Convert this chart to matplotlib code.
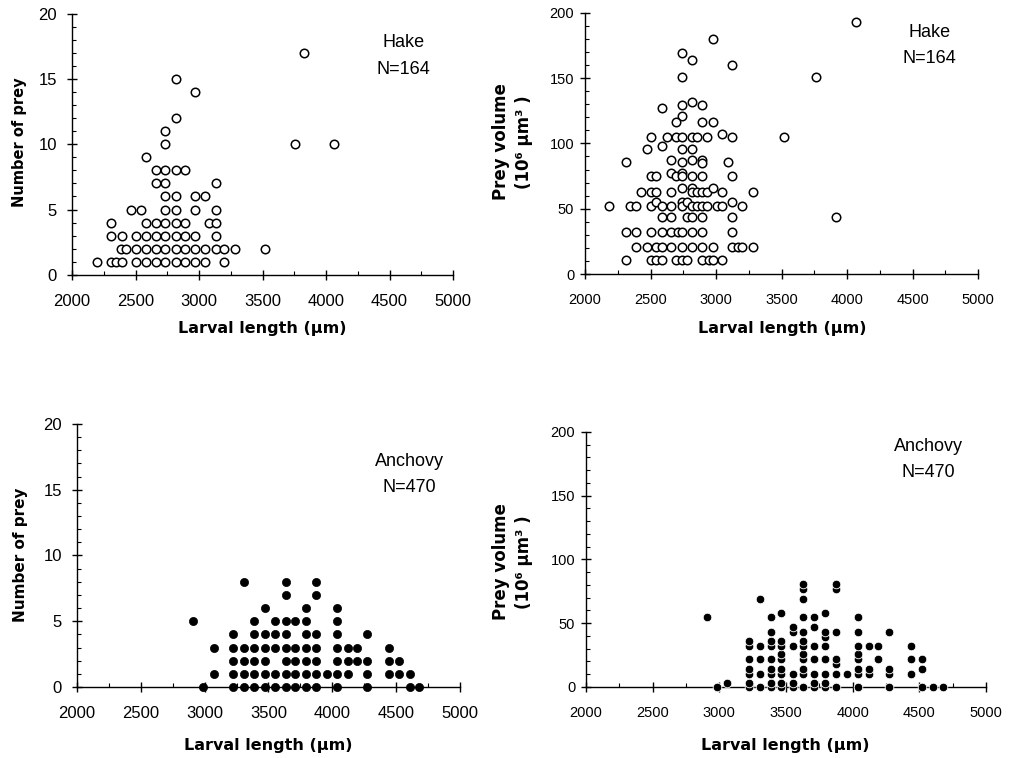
import matplotlib
matplotlib.use('Agg')
from matplotlib import pyplot as plt
from matplotlib.ticker import MultipleLocator

plt.rcParams['font.family'] = ['Liberation Sans', 'DejaVu Sans']

# hake: number of prey vs larval length (um)
hake_len_n = [3830,
              2820,
              2970,
              2820,
              2735,
              2735, 3755, 4065,
              2580,
              2660, 2735, 2820, 2890,
              2660, 2735, 3130,
              2735, 2820, 2970, 3045,
              2465, 2545, 2735, 2820, 2970, 3130,
              2310, 2580, 2660, 2735, 2820, 2890, 3075, 3130,
              2310, 2395, 2505, 2580, 2660, 2735, 2820, 2890, 2970, 3130,
              2385, 2425, 2505, 2580, 2660, 2735, 2820, 2890, 2970, 3045, 3130, 3200, 3285, 3520,
              2195, 2310, 2350, 2395, 2505, 2580, 2660, 2735, 2820, 2890, 2970, 3045, 3200]
hake_prey = [17,
             15,
             14,
             12,
             11,
             10, 10, 10,
             9,
             8, 8, 8, 8,
             7, 7, 7,
             6, 6, 6, 6,
             5, 5, 5, 5, 5, 5,
             4, 4, 4, 4, 4, 4, 4, 4,
             3, 3, 3, 3, 3, 3, 3, 3, 3, 3,
             2, 2, 2, 2, 2, 2, 2, 2, 2, 2, 2, 2, 2, 2,
             1, 1, 1, 1, 1, 1, 1, 1, 1, 1, 1, 1, 1]

# hake: prey volume (10^6 um^3) vs larval length
hake_len_v = [4070, 2975, 2740, 2815, 3125, 2740, 3760,
              2585, 2740, 2815, 2895, 2740, 2695, 2895, 2975,
              2500, 2625, 2695, 2740, 2815, 2855, 2930, 3045, 3125, 3520,
              2470, 2585, 2740, 2815,
              2315, 2660, 2740, 2815, 2895, 2895, 3090,
              2500, 2545, 2660, 2695, 2740, 2740, 2815, 2895, 3125,
              2425, 2500, 2545, 2660, 2740, 2815, 2815, 2855, 2895, 2930, 2975, 3045, 3285,
              2185, 2345, 2390, 2500, 2545, 2585, 2660, 2740, 2740, 2775, 2815, 2855, 2895, 2930, 3010, 3045, 3125, 3200,
              3915, 2585, 2660, 2775, 2815, 2895, 3125,
              2315, 2390, 2500, 2585, 2660, 2710, 2740, 2815, 2895, 3125,
              2390, 2470, 2545, 2585, 2660, 2740, 2815, 2895, 2975, 3125, 3165, 3200, 3285,
              2315, 2500, 2545, 2585, 2695, 2740, 2775, 2895, 2945, 2975, 3045]
hake_vol = [193, 180, 169, 164, 160, 151, 151,
            127, 129, 132, 129, 121, 116, 116, 116,
            105, 105, 105, 105, 105, 105, 105, 107, 105, 105,
            96, 98, 96, 96,
            86, 87, 86, 87, 87, 85, 86,
            75, 75, 77, 75, 77, 75, 75, 75, 75,
            63, 63, 63, 63, 66, 66, 63, 63, 63, 63, 66, 63, 63,
            52, 52, 52, 52, 55, 52, 52, 55, 52, 55, 52, 52, 52, 52, 52, 52, 55, 52,
            44, 44, 44, 44, 44, 44, 44,
            32, 32, 32, 32, 32, 32, 32, 32, 32, 32,
            21, 21, 21, 21, 21, 21, 21, 21, 21, 21, 21, 21, 21,
            11, 11, 11, 11, 11, 11, 11, 11, 11, 11, 11]

# anchovy: number of prey vs larval length
anch_len_n = [3305, 3635, 3875,
              3635, 3875,
              3470, 3790, 4035,
              2905, 3390, 3550, 3635, 3710, 3790, 4035,
              3225, 3390, 3470, 3550, 3635, 3790, 3875, 4035, 4275,
              3070, 3225, 3305, 3390, 3470, 3550, 3635, 3710, 3790, 3875, 4035, 4120, 4190, 4440,
              3225, 3305, 3390, 3470, 3635, 3710, 3790, 3875, 4035, 4120, 4190, 4275, 4440, 4525,
              3070, 3225, 3305, 3390, 3470, 3550, 3635, 3710, 3790, 3875, 3955, 4035, 4120, 4275, 4440, 4525, 4605,
              2985, 3225, 3305, 3390, 3470, 3550, 3635, 3710, 3790, 3875, 4035, 4275, 4605, 4680]
anch_prey = [8, 8, 8,
             7, 7,
             6, 6, 6,
             5, 5, 5, 5, 5, 5, 5,
             4, 4, 4, 4, 4, 4, 4, 4, 4,
             3, 3, 3, 3, 3, 3, 3, 3, 3, 3, 3, 3, 3, 3,
             2, 2, 2, 2, 2, 2, 2, 2, 2, 2, 2, 2, 2, 2,
             1, 1, 1, 1, 1, 1, 1, 1, 1, 1, 1, 1, 1, 1, 1, 1, 1,
             0, 0, 0, 0, 0, 0, 0, 0, 0, 0, 0, 0, 0, 0]

# anchovy: prey volume vs larval length
anch_len_v = [2905, 2980, 3060,
              3225, 3225, 3225, 3225, 3225, 3225, 3225,
              3305, 3305, 3305, 3305, 3305,
              3385, 3385, 3385, 3385, 3385, 3385, 3385, 3385, 3385,
              3465, 3465, 3465, 3465, 3465, 3465, 3465, 3465, 3465,
              3550, 3550, 3550, 3550, 3550, 3550,
              3630, 3630, 3630, 3630, 3630, 3630, 3630, 3630, 3630, 3630, 3630, 3630,
              3710, 3710, 3710, 3710, 3710, 3710, 3710,
              3795, 3795, 3795, 3795, 3795, 3795, 3795, 3795,
              3875, 3875, 3875, 3875, 3875, 3875, 3875,
              3955,
              4040, 4040, 4040, 4040, 4040, 4040, 4040, 4040,
              4120, 4120, 4120,
              4190, 4190,
              4275, 4275, 4275, 4275,
              4435, 4435, 4435,
              4520, 4520, 4520,
              4600, 4680]
anch_vol = [55, 0, 3,
            0, 3, 10, 14, 22, 32, 36,
            0, 10, 22, 32, 69,
            0, 3, 10, 14, 22, 32, 36, 43, 55,
            0, 3, 10, 14, 22, 26, 32, 36, 58,
            0, 3, 10, 32, 43, 47,
            0, 10, 14, 22, 26, 32, 36, 43, 55, 69, 77, 81,
            0, 3, 10, 22, 32, 47, 55,
            0, 3, 10, 22, 32, 39, 43, 58,
            0, 10, 18, 22, 43, 77, 81,
            10,
            0, 10, 14, 22, 26, 32, 43, 55,
            10, 14, 32,
            22, 32,
            0, 10, 14, 43,
            10, 22, 32,
            0, 14, 22,
            0, 0]

fig = plt.figure(figsize=(10.13, 7.58), dpi=100)

ax1 = fig.add_axes([0.0711, 0.6376, 0.3761, 0.3439])
ax2 = fig.add_axes([0.5775, 0.6385, 0.3880, 0.3447])
ax3 = fig.add_axes([0.0760, 0.0937, 0.3781, 0.3470])
ax4 = fig.add_axes([0.5785, 0.0937, 0.3949, 0.3364])


def setup(ax, ymax, ymajor, yminor, ypad, tsize):
    ax.set_xlim(2000, 5000)
    ax.set_ylim(0, ymax)
    ax.xaxis.set_major_locator(MultipleLocator(500))
    ax.xaxis.set_minor_locator(MultipleLocator(250))
    ax.yaxis.set_major_locator(MultipleLocator(ymajor))
    ax.yaxis.set_minor_locator(MultipleLocator(yminor))
    for s in ('top', 'right'):
        ax.spines[s].set_visible(False)
    for s in ('left', 'bottom'):
        ax.spines[s].set_linewidth(1.0)
    ax.tick_params(which='major', direction='inout', length=7.5, width=1.0,
                   labelsize=tsize)
    ax.tick_params(which='minor', direction='in', length=3, width=0.8)
    ax.tick_params(axis='x', which='major', pad=10)
    ax.tick_params(axis='y', which='major', pad=ypad)


setup(ax1, 20, 5, 1, 7, 12)
setup(ax2, 200, 50, 10, 4, 10.5)
setup(ax3, 20, 5, 1, 7, 12)
setup(ax4, 200, 50, 10, 4, 10.5)

open_style = dict(ls='none', marker='o', ms=6.1, mfc='white', mec='black',
                  mew=1.1, clip_on=False, zorder=3)
ax1.plot(hake_len_n, hake_prey, **open_style)
ax2.plot(hake_len_v, hake_vol, **open_style)

ax3.plot(anch_len_n, anch_prey, ls='none', marker='o', ms=5.9, mfc='black',
         mec='black', mew=0.5, clip_on=False, zorder=3)
ax4.plot(anch_len_v, anch_vol, ls='none', marker='o', ms=6.2, mfc='black',
         mec='white', mew=0.6, clip_on=False, zorder=3)

# species captions
for ax, (x, y1, y2), name, n in [(ax1, (0.869, 0.889, 0.788), 'Hake', 'N=164'),
                                  (ax2, (0.876, 0.926, 0.823), 'Hake', 'N=164'),
                                  (ax3, (0.867, 0.856, 0.757), 'Anchovy', 'N=470'),
                                  (ax4, (0.855, 0.945, 0.843), 'Anchovy', 'N=470')]:
    ax.text(x, y1, name, transform=ax.transAxes, ha='center', va='center', fontsize=13)
    ax.text(x, y2, n, transform=ax.transAxes, ha='center', va='center', fontsize=13)

lab = dict(fontweight='bold', family=['DejaVu Sans'], ha='center', va='center')
fig.text(0.2586, 0.566, 'Larval length (µm)', fontsize=11.5, **lab)
fig.text(0.772, 0.566, 'Larval length (µm)', fontsize=11.5, **lab)
fig.text(0.2648, 0.016, 'Larval length (µm)', fontsize=11.5, **lab)
fig.text(0.775, 0.016, 'Larval length (µm)', fontsize=11.5, **lab)

fig.text(0.0188, 0.8127, 'Number of prey', rotation=90, fontsize=10.5, **lab)
fig.text(0.0207, 0.2678, 'Number of prey', rotation=90, fontsize=11, **lab)
for yc in (0.8127, 0.2586):
    fig.text(0.4946, yc, 'Prey volume', rotation=90, fontsize=12, **lab)
    fig.text(0.5173, yc, '(10⁶ µm³ )', rotation=90, fontsize=12, **lab)

fig.savefig('out.png', dpi=100)
plt.close()
